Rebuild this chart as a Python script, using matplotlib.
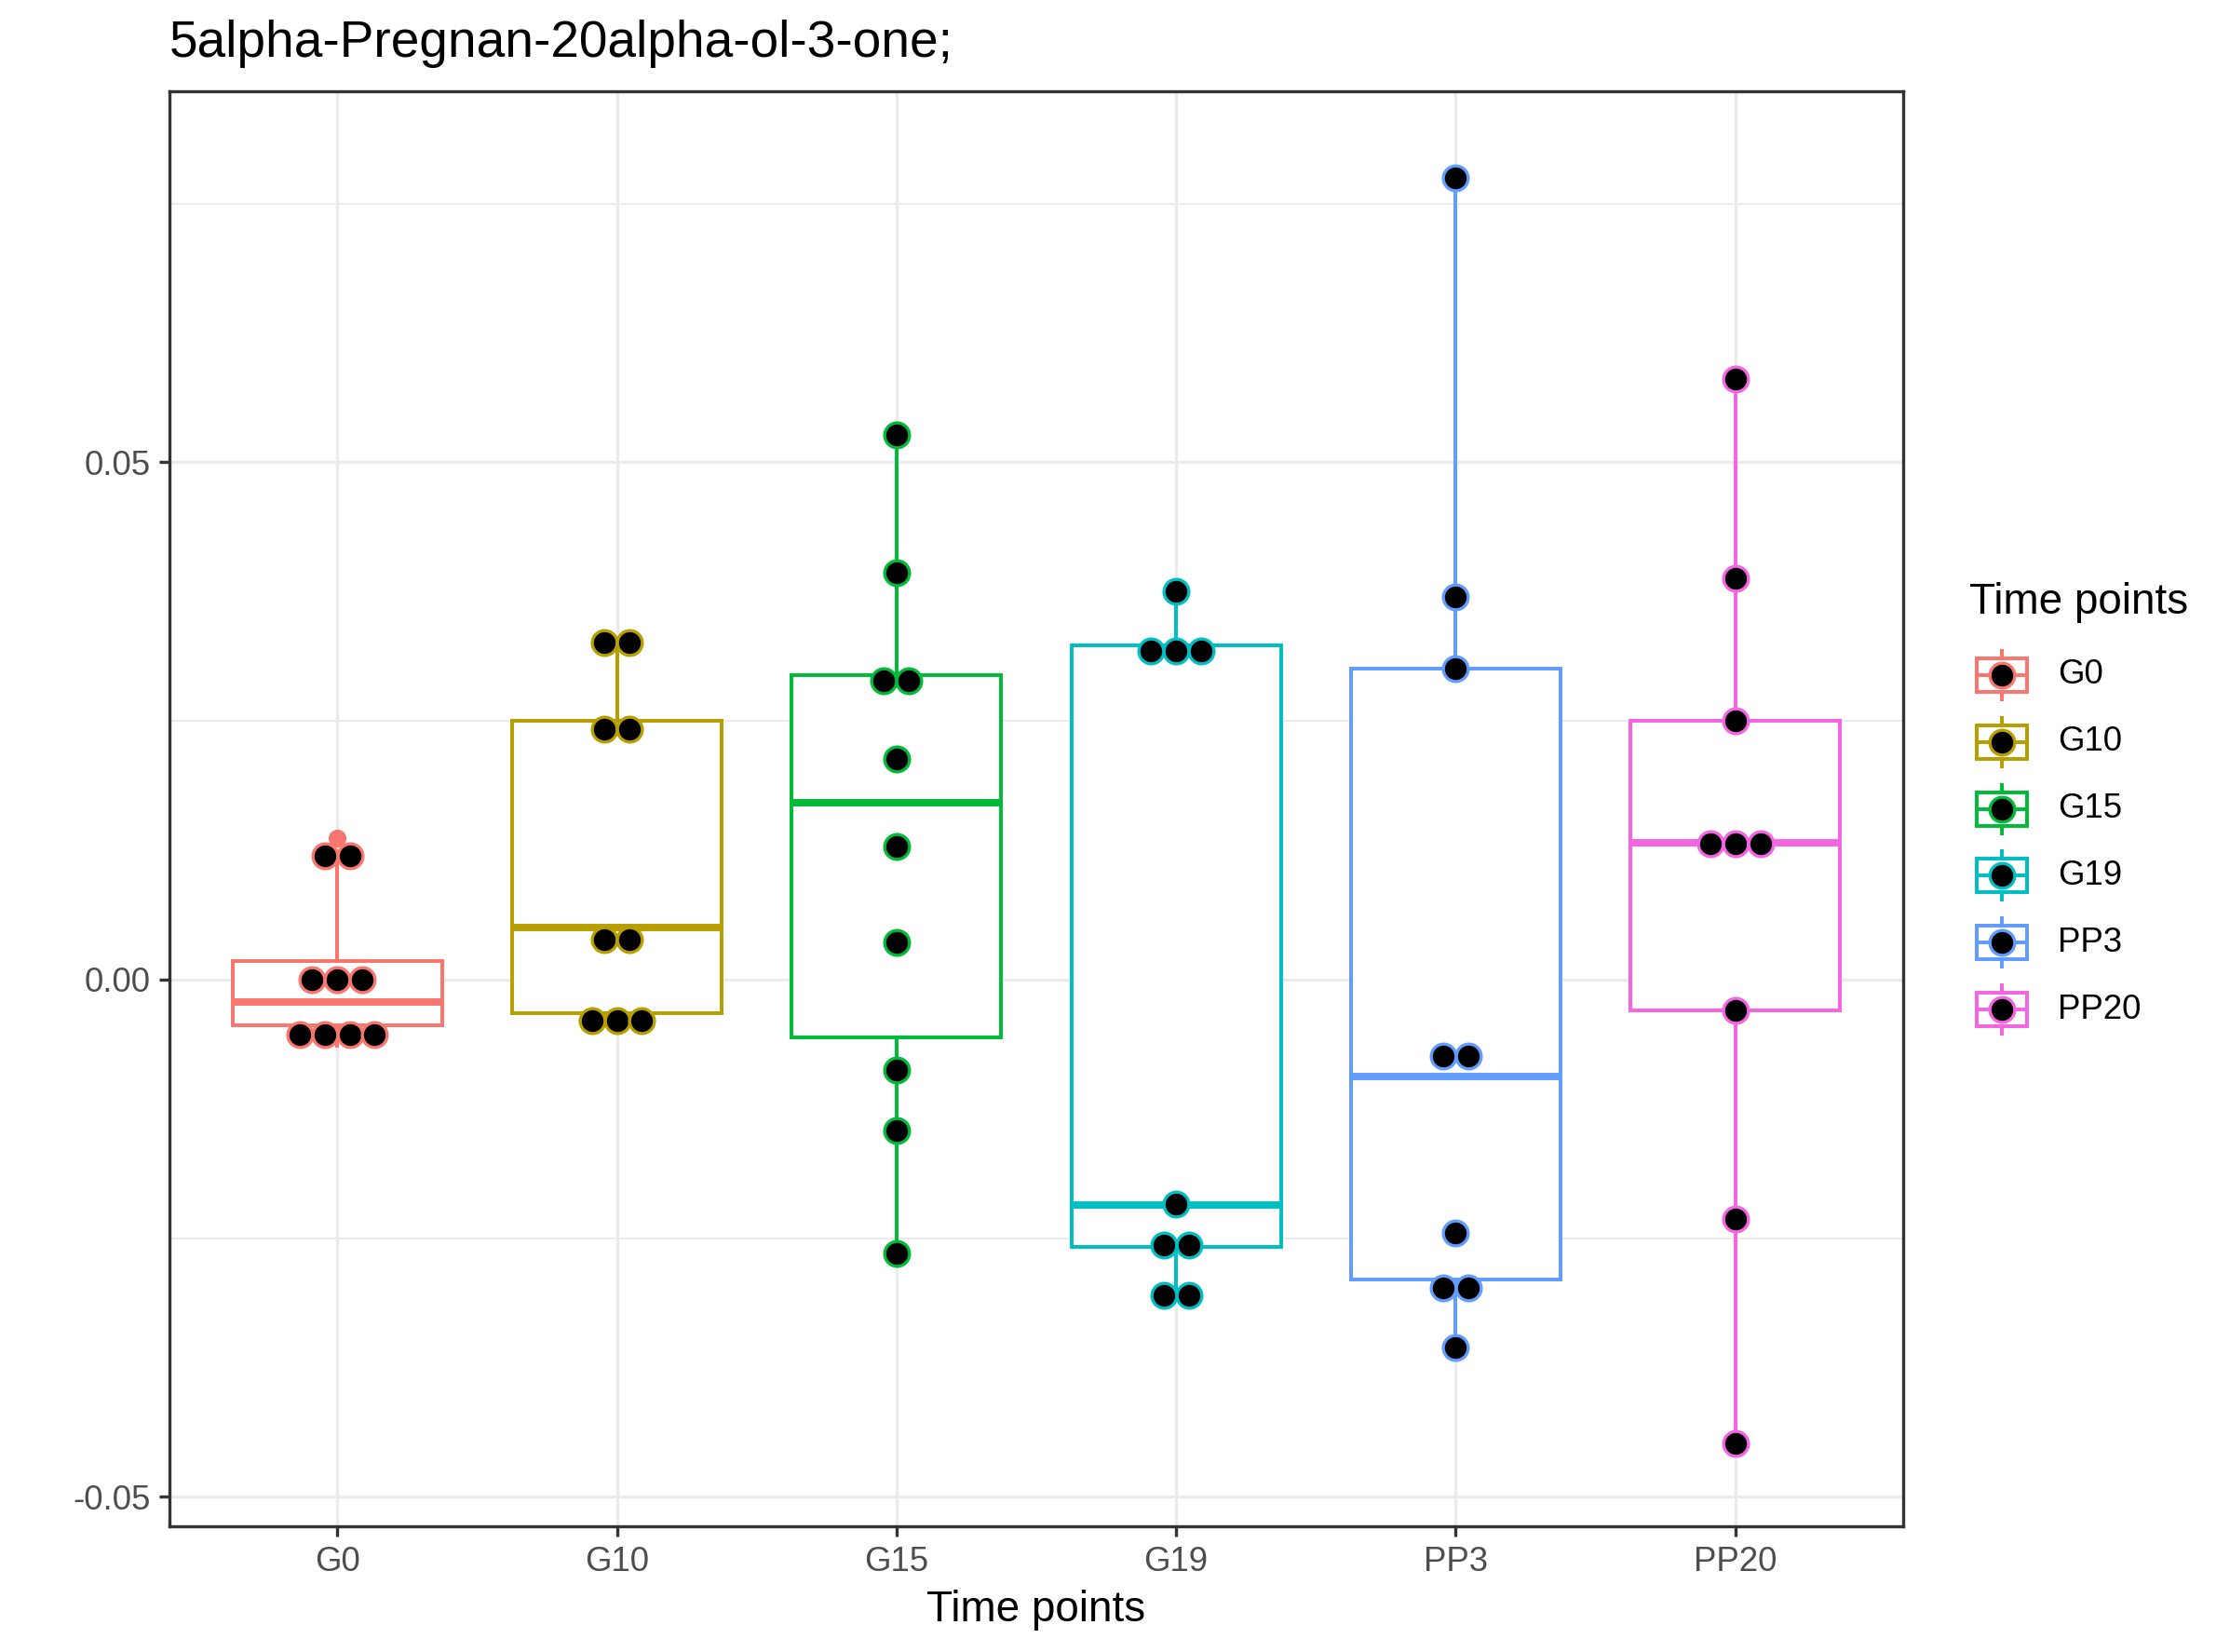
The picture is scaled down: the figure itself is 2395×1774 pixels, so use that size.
import matplotlib
matplotlib.use('Agg')
import matplotlib.pyplot as plt
from matplotlib.patches import Rectangle
from matplotlib.ticker import FixedLocator, FixedFormatter

plt.rcParams['font.family'] = ['Liberation Sans', 'DejaVu Sans']

# ---------------- data ----------------
title = "5alpha-Pregnan-20alpha-ol-3-one;"
categories = ['G0', 'G10', 'G15', 'G19', 'PP3', 'PP20']
colors = ['#F8766D', '#B79F00', '#00BA38', '#00BFC4', '#619CFF', '#F564E3']

dots_G0 = [0.0120, 0.0120, 0.0, 0.0, 0.0, -0.0053, -0.0053, -0.0053, -0.0053]
dots_G10 = [0.0326, 0.0326, 0.0242, 0.0242, 0.0039, 0.0039, -0.0040, -0.0040, -0.0040]
dots_G15 = [0.0527, 0.0393, 0.0289, 0.0289, 0.0213, 0.0129, 0.0036, -0.0087, -0.0146, -0.0265]
dots_G19 = [0.0375, 0.0318, 0.0318, 0.0318, -0.0217, -0.0257, -0.0257, -0.0305, -0.0305]
dots_PP3 = [0.0775, 0.0370, 0.0301, -0.0074, -0.0074, -0.0245, -0.0298, -0.0298, -0.0356]
dots_PP20 = [0.0581, 0.0388, 0.0250, 0.0131, 0.0131, 0.0131, -0.0030, -0.0231, -0.0448]
dots = [dots_G0, dots_G10, dots_G15, dots_G19, dots_PP3, dots_PP20]

whisker_low = [-0.0066, -0.0040, -0.0265, -0.0305, -0.0356, -0.0448]
q1 = [-0.0044, -0.0032, -0.0056, -0.0258, -0.0290, -0.0030]
median = [-0.0022, 0.0050, 0.0171, -0.0218, -0.0094, 0.0132]
q3 = [0.0018, 0.0250, 0.0294, 0.0323, 0.0301, 0.0250]
whisker_high = [0.0121, 0.0326, 0.0527, 0.0375, 0.0775, 0.0581]
outliers = [[0.0137], [], [], [], [], []]

y_ticks = [-0.05, 0.0, 0.05]
y_ticklabels = ['-0.05', '0.00', '0.05']
y_minor = [-0.025, 0.025, 0.075]

# ---------------- figure ----------------
W, H = 2395, 1774
DPI = 300
fig = plt.figure(figsize=(W / DPI, H / DPI), dpi=DPI)
ax = fig.add_axes([182 / W, 1 - 1639 / H, (2044 - 182) / W, (1639 - 98) / H])

box_w = 0.75
dot_step = 0.089
lw_box = 0.95
for i, (cat, col) in enumerate(zip(categories, colors)):
    ax.add_patch(Rectangle((i - box_w / 2, q1[i]), box_w, q3[i] - q1[i],
                           facecolor='white', edgecolor=col, lw=lw_box, zorder=2,
                           joinstyle='miter'))
    ax.plot([i, i], [whisker_low[i], q1[i]], color=col, lw=lw_box, zorder=2, solid_capstyle='butt')
    ax.plot([i, i], [q3[i], whisker_high[i]], color=col, lw=lw_box, zorder=2, solid_capstyle='butt')
    ax.plot([i - box_w / 2, i + box_w / 2], [median[i], median[i]], color=col, lw=1.9,
            zorder=2.1, solid_capstyle='butt')
    for o in outliers[i]:
        ax.plot([i], [o], 'o', color=col, markersize=4.6, mew=0, zorder=2.2)
    # stacked dots (centered)
    vals = dots[i]
    uniq = []
    for v in vals:
        if v not in uniq:
            uniq.append(v)
    for v in uniq:
        n = vals.count(v)
        xs = [i + (k - (n - 1) / 2) * dot_step for k in range(n)]
        ax.plot(xs, [v] * n, 'o', markerfacecolor='black', markeredgecolor=col,
                markersize=6.4, mew=0.8, zorder=3, linestyle='none')

ax.set_xlim(-0.6, 5.6)
ax.set_ylim(-0.05284, 0.08587)
ax.set_xticks(range(len(categories)))
ax.set_xticklabels(categories)
ax.yaxis.set_major_locator(FixedLocator(y_ticks))
ax.yaxis.set_major_formatter(FixedFormatter(y_ticklabels))
ax.yaxis.set_minor_locator(FixedLocator(y_minor))
ax.set_axisbelow(True)
ax.grid(which='major', color='#EBEBEB', lw=0.8)
ax.grid(which='minor', axis='y', color='#EBEBEB', lw=0.45)
ax.tick_params(which='major', length=2.75, width=0.8, color='#333333',
               labelcolor='#4D4D4D', labelsize=8.8, pad=2.2)
ax.tick_params(which='minor', length=0)
for sp in ax.spines.values():
    sp.set_color('#333333')
    sp.set_linewidth(0.8)
ax.set_xlabel('Time points', fontsize=11, color='black', labelpad=3)

fig.text(182 / W, 1 - 47 / H, title, fontsize=13.2, ha='left', va='center')

# ---------------- legend (manual) ----------------
lg = fig.add_axes([0, 0, 1, 1], zorder=5)
lg.set_xlim(0, W)
lg.set_ylim(H, 0)
lg.axis('off')
lg.text(2115, 647, 'Time points', fontsize=11, ha='left', va='center')
kx = 2150
for j, (cat, col) in enumerate(zip(categories, colors)):
    cy = 725 + 71.8 * j
    lg.add_patch(Rectangle((kx - 27, cy - 18), 54, 36, facecolor='white', edgecolor=col, lw=0.95))
    lg.plot([kx, kx], [cy - 28, cy - 18], color=col, lw=0.95, solid_capstyle='butt')
    lg.plot([kx, kx], [cy + 18, cy + 28], color=col, lw=0.95, solid_capstyle='butt')
    lg.plot([kx - 27, kx + 27], [cy, cy], color=col, lw=0.95)
    lg.plot([kx], [cy], 'o', markerfacecolor='black', markeredgecolor=col, markersize=6.4, mew=0.8)
    lg.text(2210, cy, cat, fontsize=8.8, ha='left', va='center')

fig.savefig('out.png', dpi=DPI)
